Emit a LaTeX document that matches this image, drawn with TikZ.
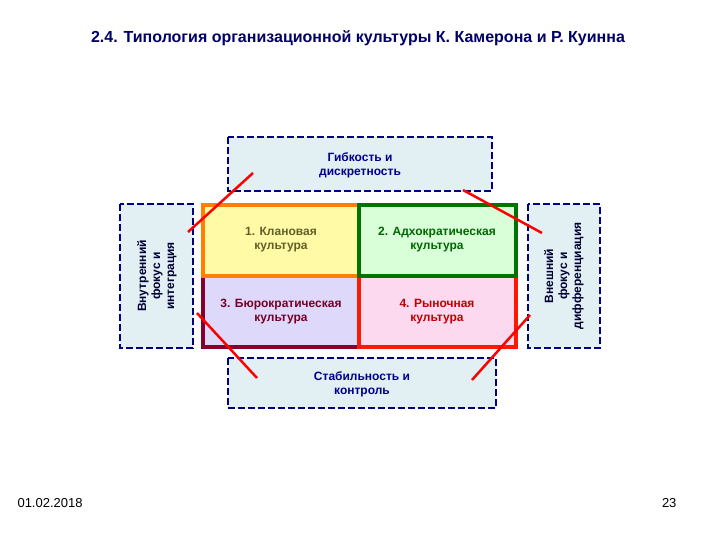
\documentclass[tikz,border=0pt]{standalone}
\usepackage{fontspec}
\setmainfont{Liberation Sans}
\definecolor{boxfill}{RGB}{226,240,244}
\begin{document}
\begin{tikzpicture}[x=1pt,y=-1pt,
  sidebox/.style={draw=blue!50!black,line width=2pt,dash pattern=on 7pt off 3pt,fill=boxfill,inner sep=0pt},
  quad/.style={line width=3.2pt},
  qtext/.style={font=\fontsize{12}{14}\selectfont\bfseries,align=center},
  btext/.style={font=\fontsize{12}{14}\selectfont\bfseries,align=center,text=blue!55!black},
  redline/.style={draw=red,line width=2.5pt}]
\useasboundingbox (0,0) rectangle (720,540);
\node[font=\fontsize{16}{18}\selectfont\bfseries,text=blue!40!black] (title) at (358,38) {2.4. Типология организационной культуры К. Камерона и Р. Куинна};
% side boxes
\draw[sidebox] (228,137) rectangle (492,191);
\node[btext] (top) at (360,165) {Гибкость и\\дискретность};
\draw[sidebox] (228,358) rectangle (496,408);
\node[btext] (bot) at (362,384) {Стабильность и\\контроль};
\draw[sidebox] (120,204) rectangle (193,348);
\node[btext,text=black!80!blue,rotate=90] (left) at (157,276) {Внутренний\\фокус и\\интеграция};
\draw[sidebox] (528,204) rectangle (600,348);
\node[btext,text=black!80!blue,rotate=90] (right) at (564,276) {Внешний\\фокус и\\дифференциация};
% quadrants
\draw[quad,draw=purple!70!black,fill=violet!25!blue!15] (203,276) rectangle (359,347);
\draw[quad,draw=red!80!orange,fill=magenta!15] (359,276) rectangle (516,347);
\draw[quad,draw=orange,fill=yellow!35] (203,205) rectangle (359,276);
\draw[quad,draw=green!45!black,fill=green!15] (359,205) rectangle (516,276);
\node[qtext,text=olive!60!black] (q1) at (281,240) {1. Клановая\\культура};
\node[qtext,text=green!40!black] (q2) at (437,240) {2. Адхократическая\\культура};
\node[qtext,text=purple!60!black] (q3) at (281,312) {3. Бюрократическая\\культура};
\node[qtext,text=red!75!black] (q4) at (437,312) {4. Рыночная\\культура};
% red lines
\coordinate (a1) at (188,232); \coordinate (a2) at (253,173);
\coordinate (b1) at (463,190); \coordinate (b2) at (542,233);
\coordinate (c1) at (197,313); \coordinate (c2) at (257,378);
\coordinate (d1) at (472,380); \coordinate (d2) at (530,315);
\draw[redline] (a1) -- (a2);
\draw[redline] (b1) -- (b2);
\draw[redline] (c1) -- (c2);
\draw[redline] (d1) -- (d2);
\node[font=\fontsize{13}{15}\selectfont,anchor=west] (date) at (14,503) {01.02.2018};
\node[font=\fontsize{13}{15}\selectfont,anchor=east] (page) at (680,503) {23};
\end{tikzpicture}
\end{document}
